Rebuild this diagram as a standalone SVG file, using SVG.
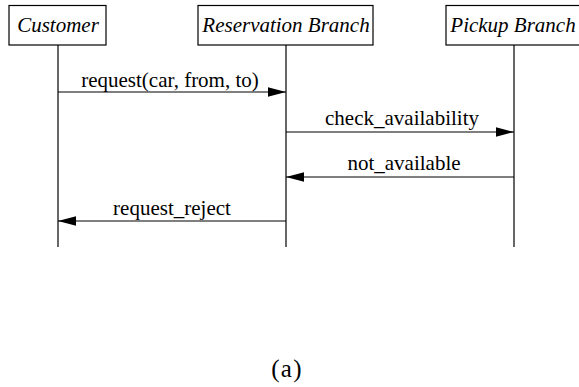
<svg xmlns="http://www.w3.org/2000/svg" width="579" height="387" viewBox="0 0 579 387">
<style>
.box{fill:#fff;stroke:#000;stroke-width:1.2}
.life{stroke:#000;stroke-width:1.2;fill:none}
.msg{stroke:#000;stroke-width:1.2;fill:none;marker-end:url(#ah)}
.name{font-family:"Liberation Serif","Times New Roman",serif;font-style:italic;font-size:21px;text-anchor:middle;fill:#000}
.lbl{font-family:"Liberation Serif","Times New Roman",serif;font-size:21px;text-anchor:middle;fill:#000}
</style>
<defs>
<marker id="ah" markerUnits="userSpaceOnUse" markerWidth="18" markerHeight="10" refX="18" refY="5" orient="auto">
<path d="M0,0.3 L18,5 L0,9.7 Z" fill="#000"/>
</marker>
</defs>
<rect width="579" height="387" fill="#fff"/>
<g id="customer">
<rect class="box" x="9" y="5.5" width="97" height="39.5"/>
<text class="name" x="58" y="32">Customer</text>
<line class="life" x1="58" y1="45" x2="58" y2="247"/>
</g>
<g id="reservation">
<rect class="box" x="198" y="5.5" width="175" height="39.5"/>
<text class="name" x="286" y="32">Reservation Branch</text>
<line class="life" x1="286" y1="45" x2="286" y2="247"/>
</g>
<g id="pickup">
<rect class="box" x="446" y="5.5" width="138" height="39.5"/>
<text class="name" x="513" y="32">Pickup Branch</text>
<line class="life" x1="514" y1="45" x2="514" y2="247"/>
</g>
<g id="connectors">
<line class="msg" x1="58" y1="92" x2="286" y2="92"/>
<text class="lbl" x="170" y="87">request(car, from, to)</text>
<line class="msg" x1="286" y1="132" x2="514" y2="132"/>
<text class="lbl" x="402" y="125">check_availability</text>
<line class="msg" x1="514" y1="177" x2="286" y2="177"/>
<text class="lbl" x="404" y="170">not_available</text>
<line class="msg" x1="286" y1="221" x2="58" y2="221"/>
<text class="lbl" x="172" y="215">request_reject</text>
</g>
<text class="lbl" x="287" y="376.5" style="font-size:25px;letter-spacing:1.2px">(a)</text>
</svg>
